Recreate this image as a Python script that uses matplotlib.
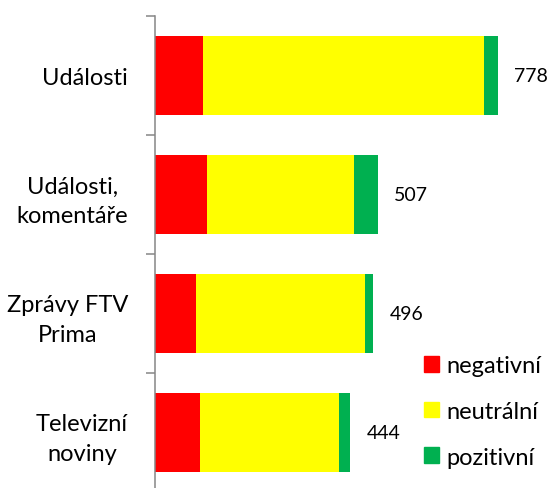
import matplotlib
matplotlib.use('Agg')
import matplotlib.pyplot as plt
from matplotlib.patches import Patch

CATEGORIES = ['Události', 'Události,\nkomentáře', 'Zprávy FTV\nPrima', 'Televizní\nnoviny']
NEGATIVE   = [109, 120, 94, 103]
NEUTRAL    = [637, 331, 384, 316]
POSITIVE   = [32, 56, 18, 25]
TOTALS     = [778, 507, 496, 444]
SERIES     = ['negativní', 'neutrální', 'pozitivní']
COLORS     = ['#FF0000', '#FFFF00', '#00B050']

plt.rcParams['font.family'] = ['Lato', 'DejaVu Sans']

W, H = 549, 489
fig = plt.figure(figsize=(W / 100, H / 100), dpi=100)
# axes placed in pixel terms: spine at x=154.5, category slots from y=17 to y=493
ax = fig.add_axes([154.5 / W, 1 - 493 / H, 400 / W, 476 / H])

y = list(range(len(CATEGORIES)))
left = [0] * len(CATEGORIES)
for vals, name, col in zip([NEGATIVE, NEUTRAL, POSITIVE], SERIES, COLORS):
    bars = ax.barh(y, vals, left=left, height=0.67, color=col, label=name)
    left = [a + b for a, b in zip(left, vals)]

ax.bar_label(bars, labels=[str(t) for t in TOTALS], padding=11.5, fontsize=14)

ax.set_xlim(0, 400 / 0.4414)
ax.set_ylim(len(CATEGORIES) - 0.5, -0.5)

# boundary ticks on the spine, labels centred in each slot
ax.set_yticks([i - 0.5 for i in range(len(CATEGORIES) + 1)])
ax.set_yticklabels([])
ax.set_yticks(y, minor=True)
ax.set_yticklabels(CATEGORIES, minor=True, fontsize=17)
for lbl in ax.get_yticklabels(minor=True):
    lbl.set_multialignment('center')
    lbl.set_linespacing(1.5)
ax.tick_params(axis='y', which='major', length=6.5, width=1.1, color='#868686')
ax.tick_params(axis='y', which='minor', length=0, pad=19)
ax.set_xticks([])

for s in ['top', 'right', 'bottom']:
    ax.spines[s].set_visible(False)
ax.spines['left'].set_color('#868686')
ax.spines['left'].set_linewidth(1.1)

handles = [Patch(color=c) for c in COLORS]
fig.legend(handles, SERIES, loc='upper left', bbox_to_anchor=(424 / W, 1 - 356 / H),
           frameon=False, fontsize=17, handlelength=0.65, handleheight=0.65,
           handletextpad=0.3, labelspacing=1.05, borderpad=0, borderaxespad=0)

fig.savefig('out.png', dpi=100)
